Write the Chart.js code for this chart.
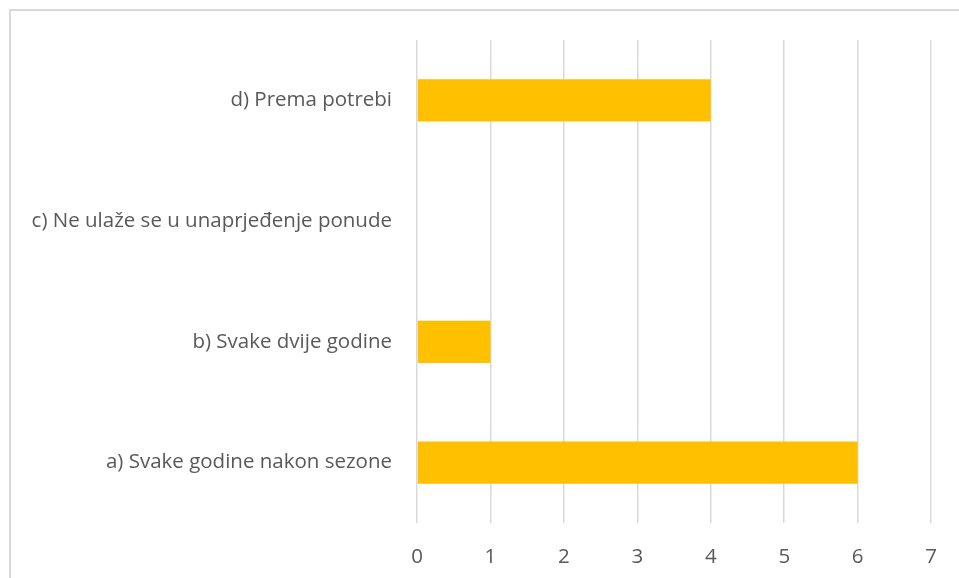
<!DOCTYPE html>
<html>
<head>
<meta charset="utf-8">
<script src="https://cdn.jsdelivr.net/npm/chart.js@4"></script>
<style>
    html, body { margin: 0; padding: 0; background: #fff; }
    #frame { position: absolute; left: 9px; top: 9px; width: 980px; height: 600px; border: 2px solid #d9d9d9; box-sizing: border-box; }
    #wrap { position: absolute; left: 0; top: 0; width: 959px; height: 578px; }
</style>
</head>
<body>
<div id="frame"></div>
<div id="wrap"><canvas id="barChart"></canvas></div>
<script>
// Categories, top to bottom as shown
const categories = [
    'd) Prema potrebi',
    'c) Ne ulaže se u unaprjeđenje ponude',
    'b) Svake dvije godine',
    'a) Svake godine nakon sezone'
];
const counts = [4, 0, 1, 6];
const xTicks = [0, 1, 2, 3, 4, 5, 6, 7];

const labelFont = { family: 'Open Sans', size: 20.5 };

function initBarChart() {
    const ctx = document.getElementById('barChart').getContext('2d');
    new Chart(ctx, {
        type: 'bar',
        data: {
            labels: categories,
            datasets: [{
                data: counts,
                backgroundColor: '#FFC000',
                categoryPercentage: 0.7,
                barPercentage: 0.5
            }]
        },
        options: {
            indexAxis: 'y',
            responsive: true,
            maintainAspectRatio: false,
            animation: false,
            layout: { padding: { top: 40, right: 24, left: 0, bottom: 0 } },
            plugins: {
                legend: { display: false },
                tooltip: { enabled: false }
            },
            scales: {
                x: {
                    min: xTicks[0],
                    max: xTicks[xTicks.length - 1],
                    afterBuildTicks: axis => { axis.ticks = xTicks.map(v => ({ value: v })); },
                    afterFit: axis => { axis.height = 55; },
                    grid: { color: '#d9d9d9', lineWidth: 1.5, drawTicks: false },
                    border: { display: false },
                    ticks: { color: '#595959', font: labelFont, padding: 22 }
                },
                y: {
                    afterFit: axis => { axis.width = 417; },
                    grid: { display: false },
                    border: { display: false },
                    ticks: { color: '#595959', font: labelFont, padding: 17 }
                }
            }
        }
    });
}

document.addEventListener('DOMContentLoaded', initBarChart);
</script>
</body>
</html>
